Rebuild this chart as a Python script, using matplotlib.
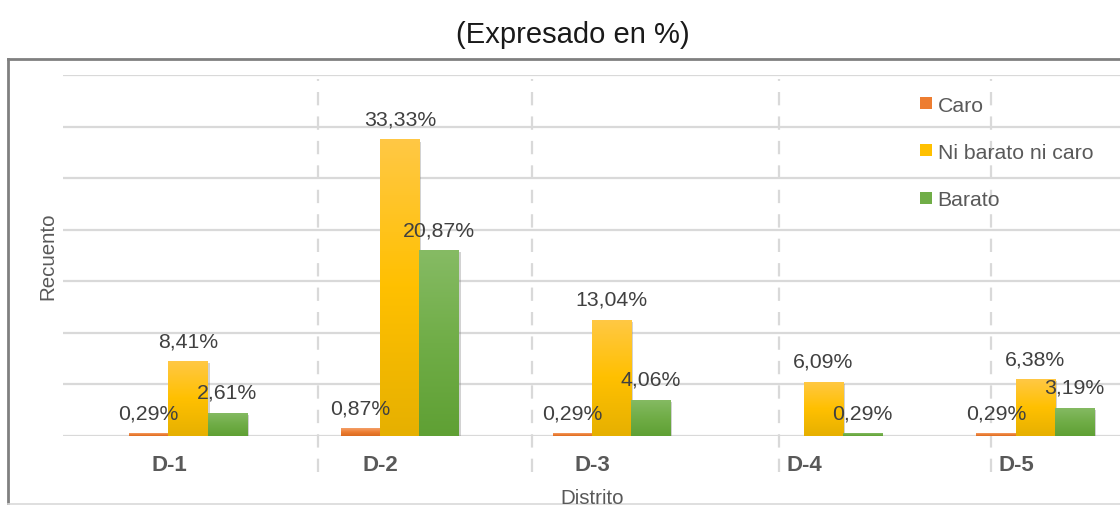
import numpy as np
import matplotlib
matplotlib.use("Agg")
import matplotlib.pyplot as plt
from matplotlib.lines import Line2D
from matplotlib import transforms, patheffects
from matplotlib.colors import LinearSegmentedColormap

plt.rcParams['font.family'] = ['Liberation Sans', 'DejaVu Sans']

# --- data -------------------------------------------------------------
districts = ["D-1", "D-2", "D-3", "D-4", "D-5"]
series_names = ["Caro", "Ni barato ni caro", "Barato"]
caro = [0.29, 0.87, 0.29, 0.0, 0.29]
ni_barato_ni_caro = [8.41, 33.33, 13.04, 6.09, 6.38]
barato = [2.61, 20.87, 4.06, 0.29, 3.19]
total_respondents = 345          # base of the percentages
grid_step_counts = 20            # one gridline every 20 respondents
grid_lines = 7

title = "(Expresado en %)"
ylabel = "Recuento"
xlabel = "Distrito"

# --- figure -----------------------------------------------------------
W, H = 1120, 506
fig = plt.figure(figsize=(W / 100, H / 100), dpi=100)
ax = fig.add_axes([63 / W, (H - 437) / H, (W - 63) / W, (437 - 76) / H])

step_pct = 100 * grid_step_counts / total_respondents
ymax = step_pct * grid_lines
x = np.arange(len(districts))
bw = 0.185

gradients = {
    "Caro": ["#F4A06A", "#ED7D31", "#D96A20"],
    "Ni barato ni caro": ["#FFC845", "#FFC000", "#E6B000"],
    "Barato": ["#86BB64", "#70AD47", "#5FA034"],
}
solid = {"Caro": "#ED7D31", "Ni barato ni caro": "#FFC000", "Barato": "#70AD47"}

grad = np.linspace(1, 0, 256).reshape(-1, 1)
all_series = [caro, ni_barato_ni_caro, barato]
for k, (name, vals) in enumerate(zip(series_names, all_series)):
    pos = x + (k - 1) * bw
    bars = ax.bar(pos, vals, width=bw, color=solid[name], zorder=3,
                  linewidth=0)
    cmap = LinearSegmentedColormap.from_list(name, gradients[name][::-1])
    for b, v in zip(bars, vals):
        if v <= 0:
            continue
        b.set_path_effects([patheffects.SimplePatchShadow(offset=(1.5, -1.5),
                                                          shadow_rgbFace="#7F7F7F",
                                                          alpha=0.35),
                            patheffects.Normal()])
        im = ax.imshow(grad, extent=[b.get_x(), b.get_x() + bw, 0, v],
                       aspect="auto", cmap=cmap, zorder=3.5,
                       interpolation="bicubic", vmin=0, vmax=1)
        im.set_clip_path(b)
        ax.annotate(f"{v:.2f}%".replace(".", ","), (b.get_x() + bw / 2, v),
                    xytext=(0, 8), textcoords="offset points",
                    ha="center", va="bottom", fontsize=15.3,
                    color="#404040", zorder=6)

ax.set_aspect("auto")
ax.set_xlim(-0.59, 4.40)
ax.set_ylim(0, ymax)

# horizontal gridlines
ax.set_yticks(np.arange(0, grid_lines + 1) * step_pct)
ax.set_yticklabels([])
ax.tick_params(axis="y", length=0)
ax.grid(axis="y", color="#D9D9D9", linewidth=1.6, zorder=0)
ax.set_axisbelow(True)
for s in ax.spines.values():
    s.set_visible(False)

# dashed separators between districts
sep_pos = [0.614, 1.625, 2.79, 3.79]
trans = transforms.blended_transform_factory(ax.transData, ax.transAxes)
for sp in sep_pos:
    ax.add_line(Line2D([sp, sp], [-0.10, 0.99], transform=trans,
                       color="#D9D9D9", linewidth=1.6, dashes=(6, 5),
                       clip_on=False, zorder=0.5))

# category labels
ax.set_xticks(x)
ax.set_xticklabels(districts, fontsize=16, fontweight="bold", color="#595959")
ax.tick_params(axis="x", length=0, pad=13)
shift = transforms.ScaledTranslation(-19 / 100, 0, fig.dpi_scale_trans)
for lab in ax.get_xticklabels():
    lab.set_transform(lab.get_transform() + shift)

# axis titles
fig.text(48 / W, 1 - 256 / H, ylabel, rotation=90, ha="center", va="center",
         fontsize=14.8, color="#595959")
fig.text(592 / W, 1 - 489 / H, xlabel, ha="center", va="top",
         fontsize=14.8, color="#595959")

# chart title
fig.text(573 / W, 1 - 35 / H, title, ha="center", va="center",
         fontsize=21, color="#1A1A1A")

# legend
handles = [Line2D([], [], marker="s", linestyle="none", markersize=8,
                  markerfacecolor=solid[n], markeredgewidth=0) for n in series_names]
fig.legend(handles, series_names, loc="upper left",
           bbox_to_anchor=(909 / W, 1 - 86 / H), frameon=False,
           fontsize=15.3, labelcolor="#595959", handlelength=0.6,
           handletextpad=0.25, labelspacing=1.33, borderpad=0)

# chart frame
fig.add_artist(Line2D([8 / W, 8 / W], [1 - 60 / H, 0], transform=fig.transFigure,
                      color="#808080", linewidth=2))
fig.add_artist(Line2D([8 / W, 1], [1 - 60 / H, 1 - 60 / H], transform=fig.transFigure,
                      color="#808080", linewidth=2))
fig.add_artist(Line2D([8 / W, 1], [1 - 504.5 / H, 1 - 504.5 / H],
                      transform=fig.transFigure, color="#D9D9D9", linewidth=1.2))

fig.savefig("out.png", dpi=100)
